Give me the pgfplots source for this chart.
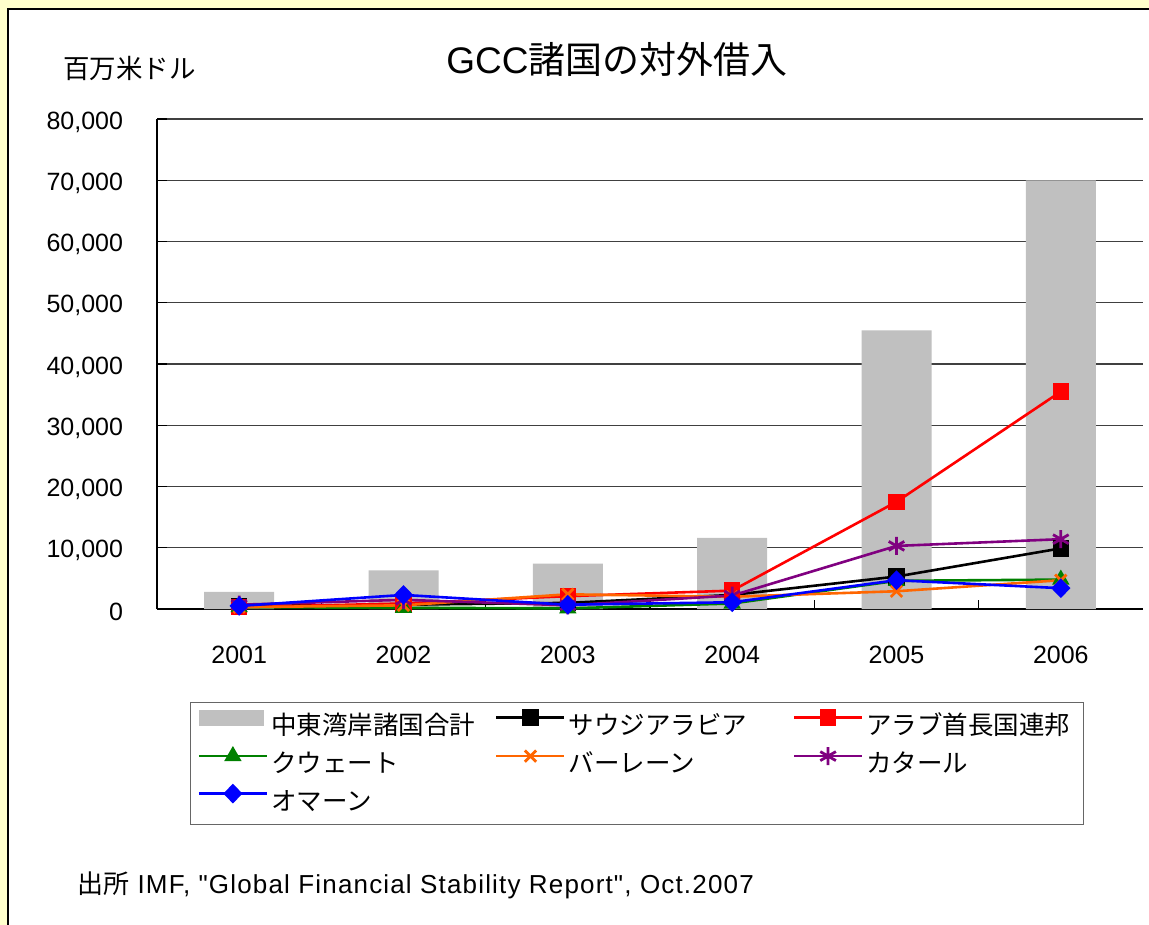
\documentclass[border=0pt]{standalone}
\usepackage{pgfplots}
\pgfplotsset{compat=1.18}
\usepackage{fontspec}
\setmainfont{Liberation Sans}
\newfontfamily\cjk{Noto Sans CJK JP}
\newfontfamily\srcfont{Liberation Sans}[LetterSpace=4.5]
\definecolor{bgy}{HTML}{FFFFCC}
\definecolor{barg}{HTML}{C0C0C0}
\definecolor{cgreen}{HTML}{008000}
\definecolor{corange}{HTML}{FF6600}
\definecolor{cpurple}{HTML}{800080}
\definecolor{cblue}{HTML}{0000FF}
\definecolor{cred}{HTML}{FF0000}
\pgfplotstableread{
x total saudi uae kuwait bahrain qatar oman
0 2800 500 300 300 300 700 500
1 6300 700 900 200 600 1500 2300
2 7400 1000 2100 100 2400 600 700
3 11600 2300 3000 900 2000 2200 1100
4 45500 5300 17500 4600 2900 10300 4700
5 70000 9900 35500 4800 4700 11400 3400
}\gccdata
\begin{document}
\begin{tikzpicture}
\useasboundingbox (0,0) rectangle (1149pt,-925pt);
\fill[bgy] (0,0) rectangle (1149pt,-925pt);
\filldraw[fill=white, draw=black, line width=1.5pt] (8pt,-9pt) rectangle (1170pt,-945pt);
\node[font=\cjk\fontsize{26.5}{30}\selectfont, anchor=west, inner sep=0pt] at (63pt,-68pt) {百万米ドル};
\node[font=\fontsize{37}{42}\selectfont, inner sep=0pt] at (617pt,-59pt) {GCC{\cjk 諸国の対外借入}};
\node[anchor=west, inner sep=0pt, font=\srcfont\fontsize{26}{30}\selectfont] at (77pt,-885pt) {{\cjk 出所} IMF, "Global Financial Stability Report", Oct.2007};
\begin{axis}[
  at={(157pt,-609pt)}, anchor=south west,
  width=986pt, height=490pt, scale only axis,
  xmin=-0.5, xmax=5.5, ymin=0, ymax=80000,
  axis x line*=bottom, axis y line*=left,
  axis line style={-, black, line width=1.5pt},
  clip=false,
  ytick={0,10000,...,80000},
  ymajorgrids, major grid style={black!75, line width=1.2pt},
  xtick={0,...,5}, xticklabels={2001,2002,2003,2004,2005,2006},
  minor xtick={0.5,1.5,2.5,3.5,4.5},
  tick align=inside,
  major tick length=10pt, minor tick length=9pt,
  xtick style={draw=none},
  minor x tick style={draw=black, line width=1.2pt},
  ytick style={black, line width=1.2pt},
  scaled y ticks=false,
  /pgf/number format/assume math mode=true,
  /pgf/number format/1000 sep={,},
  yticklabel style={font=\fontsize{25}{30}\selectfont, xshift=-30.5pt, yshift=-3pt},
  xticklabel style={font=\fontsize{25}{30}\selectfont, yshift=-34pt},
  legend columns=3,
  legend style={at={(0.03347,-0.1898)}, anchor=north west,
    draw=black!60, line width=1.2pt, inner xsep=7pt, inner ysep=7pt,
    font=\cjk\fontsize{25.5}{30}\selectfont,
    row sep=6pt, column sep=0pt,
    nodes={inner sep=0pt, text height=22pt, text depth=7pt}},
  legend cell align=left,
  legend image code/.code={\draw[#1, mark repeat=2, mark phase=2] plot coordinates {(0pt,9pt) (34pt,9pt) (68pt,9pt)}; \path (71pt,0pt);},
]
\addplot[ybar, bar width=70pt, fill=barg, draw=none,
  legend image code/.code={\fill[barg] (0pt,1pt) rectangle (65pt,17pt); \path (70pt,0pt);}]
  table[x=x,y=total]{\gccdata};
\addlegendentry{\makebox[224pt][l]{中東湾岸諸国合計}}
\addplot[black, line width=2.6pt, mark=square*, mark size=7pt, mark options={solid}] table[x=x,y=saudi]{\gccdata};
\addlegendentry{\makebox[224pt][l]{サウジアラビア}}
\addplot[cred, line width=2.6pt, mark=square*, mark size=7pt, mark options={solid}] table[x=x,y=uae]{\gccdata};
\addlegendentry{\makebox[210pt][l]{アラブ首長国連邦}}
\addplot[cgreen, line width=2.6pt, mark=triangle*, mark size=7.5pt, mark options={solid}] table[x=x,y=kuwait]{\gccdata};
\addlegendentry{\makebox[224pt][l]{クウェート}}
\addplot[corange, line width=2.6pt, mark=x, mark size=8pt, mark options={solid, line width=2.8pt}] table[x=x,y=bahrain]{\gccdata};
\addlegendentry{\makebox[224pt][l]{バーレーン}}
\addplot[cpurple, line width=2.6pt, mark=asterisk, mark size=9pt, mark options={solid, line width=2.8pt}] table[x=x,y=qatar]{\gccdata};
\addlegendentry{\makebox[210pt][l]{カタール}}
\addplot[cblue, line width=2.6pt, mark=diamond*, mark size=8pt, mark options={solid, xscale=1.3}] table[x=x,y=oman]{\gccdata};
\addlegendentry{\makebox[224pt][l]{オマーン}}
\end{axis}
\end{tikzpicture}
\end{document}
